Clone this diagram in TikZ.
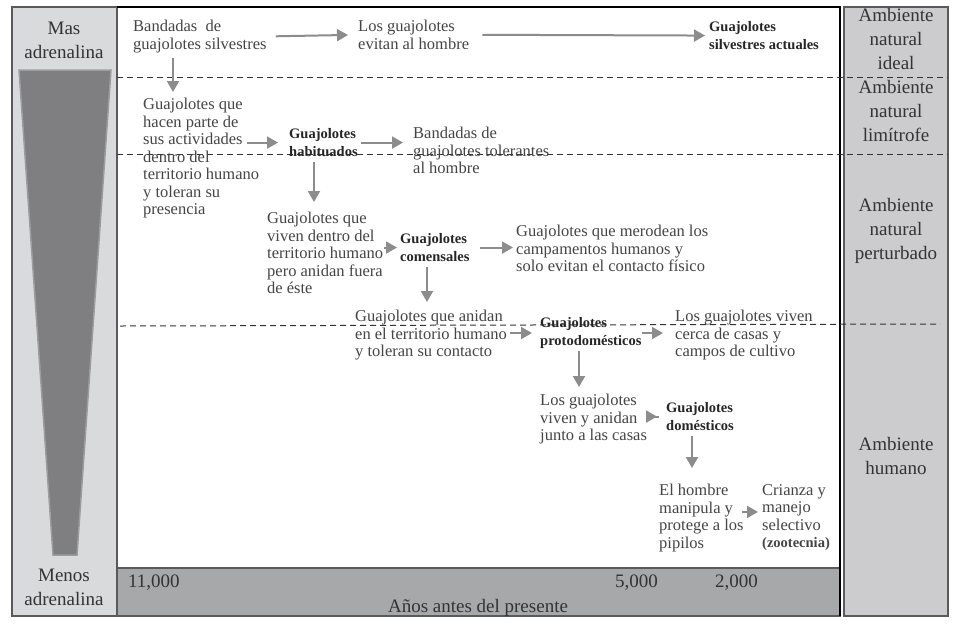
\documentclass[tikz,border=0pt]{standalone}
\usepackage{fontspec}
\setmainfont{Liberation Serif}
\usetikzlibrary{arrows.meta}

\definecolor{panelgray}{HTML}{D9DADC}
\definecolor{wedgegray}{HTML}{7F7F82}
\definecolor{wedgeedge}{HTML}{9D9DA0}
\definecolor{bargray}{HTML}{A7A8AA}
\definecolor{zonegray}{HTML}{CCCCCE}
\definecolor{framegray}{HTML}{5A5A5C}
\definecolor{arrowgray}{HTML}{8C8C8F}
\definecolor{textgray}{HTML}{454545}

\tikzset{
  note/.style={anchor=north west, align=left, inner sep=0pt, text=textgray,
    font=\fontsize{16.5}{17.5}\selectfont},
  stage/.style={note, text=black!85, font=\fontsize{14.5}{18.5}\selectfont\bfseries},
  zone/.style={align=center, inner sep=0pt, text=black!80, font=\fontsize{19}{24}\selectfont},
  flow/.style={draw=arrowgray, line width=2pt, -{Triangle[length=11pt,width=12pt]},
    shorten <=5pt, shorten >=6pt},
  limit/.style={draw=black!80, line width=1pt, dash pattern=on 6pt off 4pt},
}

\begin{document}
\begin{tikzpicture}[x=1pt,y=-1pt]
  \useasboundingbox[fill=white] (0,0) rectangle (962,633);
  % The adrenaline column with its wedge.
  \draw[framegray, fill=panelgray, line width=1.5pt] (12,7) rectangle (117,616);
  \filldraw[fill=wedgegray, draw=wedgeedge, line width=1.5pt]
    (19,70) -- (111,70) -- (77,555) -- (53,555) -- cycle;
  \node[zone] (mas) at (64,40) {Mas\\adrenalina};
  \node[zone] (menos) at (64,587) {Menos\\adrenalina};
  % The time axis.
  \draw[framegray, fill=bargray, line width=1.5pt] (117,568) rectangle (840,616);
  \node[zone, anchor=west] (t11) at (128,583) {11,000};
  \node[zone, anchor=west] (t5) at (615,583) {5,000};
  \node[zone, anchor=west] (t2) at (715,583) {2,000};
  \node[zone, anchor=base] (anos) at (478,612) {Años antes del presente};
  % The main frame and the environments.
  \draw[framegray, line width=1.5pt] (117,7) rectangle (840,568);
  \draw[black, line width=2pt] (117,7) -- (840,7) -- (840,616);
  \draw[framegray, fill=zonegray, line width=1.5pt] (844,7) rectangle (948,616);
  \node[zone] (ideal) at (896,39) {Ambiente\\natural\\ideal};
  \node[zone] (limitrofe) at (896,111) {Ambiente\\natural\\limítrofe};
  \node[zone] (perturbado) at (896,231) {Ambiente\\natural\\perturbado};
  \node[zone] (humano) at (896,456) {Ambiente\\humano};
  \foreach \y in {77,154} \draw[limit] (117,\y) -- (948,\y);
  \draw[limit] (120,326) -- (940,324);

  % The stages.
  \node[note] (silvestres) at (133,20) {Bandadas \ de\\guajolotes silvestres};
  \node[note] (evitan) at (358,20) {Los guajolotes\\evitan al hombre};
  \node[stage] (actuales) at (709,21) {Guajolotes\\silvestres actuales};
  \node[note] (hacen) at (143,98) {Guajolotes que\\hacen parte de\\sus actividades\\dentro del\\territorio humano\\y toleran su\\presencia};
  \node[stage] (habituados) at (289,128) {Guajolotes\\habituados};
  \node[note] (tolerantes) at (413,127) {Bandadas de\\guajolotes tolerantes\\al hombre};
  \node[note] (dentro) at (267,212) {Guajolotes que\\viven dentro del\\territorio humano\\pero anidan fuera\\de éste};
  \node[stage] (comensales) at (400,233) {Guajolotes\\comensales};
  \node[note] (merodean) at (516,225) {Guajolotes que merodean los\\campamentos humanos y\\solo evitan el contacto físico};
  \node[note] (anidan) at (355,310) {Guajolotes que anidan\\en el territorio humano\\y toleran su contacto};
  \node[stage] (protodom) at (540,317) {Guajolotes\\protodomésticos};
  \node[note] (cerca) at (675,310) {Los guajolotes viven\\cerca de casas y\\campos de cultivo};
  \node[note] (junto) at (540,394) {Los guajolotes\\viven y anidan\\junto a las casas};
  \node[stage] (domesticos) at (666,402) {Guajolotes\\domésticos};
  \node[note] (manipula) at (659,484) {El hombre\\manipula y\\protege a los\\pipilos};
  \node[note] (crianza) at (762,484) {Crianza y\\manejo\\selectivo\\{\fontsize{14.5}{17.5}\selectfont\bfseries (zootecnia)}};

  % The arrows between stages.
  \draw[flow, shorten <=9pt, shorten >=10pt] (silvestres.east) -- (evitan.west);
  \draw[flow, shorten <=13pt, shorten >=4pt] (evitan.east) -- (actuales.west);
  \draw[flow] ([xshift=40pt]silvestres.south west) -- ([xshift=40pt]silvestres.south west |- hacen.north);
  \draw[flow, shorten <=-12pt, shorten >=11pt] (habituados.west -| hacen.east) -- (habituados.west);
  \draw[flow, shorten <=3pt, shorten >=10pt] (habituados.east) -- (habituados.east -| tolerantes.west);
  \draw[flow, shorten >=10pt] ([xshift=25pt]habituados.south west) -- ([xshift=25pt]habituados.south west |- dentro.north);
  \draw[flow, shorten <=1pt, shorten >=3pt] (comensales.west -| dentro.east) -- (comensales.west);
  \draw[flow, shorten <=10pt, shorten >=3pt] (comensales.east) -- (comensales.east -| merodean.west);
  \draw[flow, shorten >=8pt] ([xshift=27pt]comensales.south west) -- ([xshift=27pt]comensales.south west |- anidan.north);
  \draw[flow, shorten <=3pt, shorten >=8pt] (protodom.west -| anidan.east) -- (protodom.west);
  \draw[flow, shorten <=0pt, shorten >=12pt] (protodom.east) -- (protodom.east -| cerca.west);
  \draw[flow, shorten <=2pt, shorten >=7pt] ([xshift=39pt]protodom.south west) -- ([xshift=39pt]protodom.south west |- junto.north);
  \draw[flow, shorten <=-12pt, shorten >=9pt] (domesticos.west -| junto.east) -- (domesticos.west);
  \draw[flow, shorten >=16pt] ([xshift=26pt]domesticos.south west) -- ([xshift=26pt]domesticos.south west |- manipula.north);
  \draw[flow, shorten <=-2pt, shorten >=4pt] ([yshift=6pt]manipula.east) -- ([yshift=6pt]manipula.east -| crianza.west);
\end{tikzpicture}
\end{document}
